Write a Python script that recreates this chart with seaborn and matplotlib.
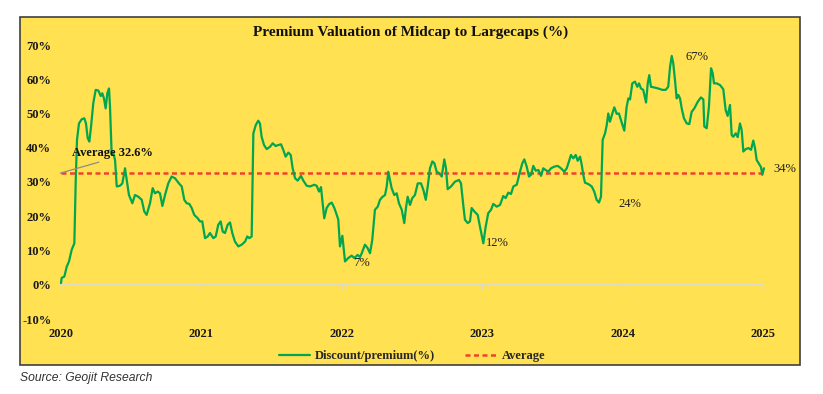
import numpy as np
import pandas as pd
import matplotlib
matplotlib.use("Agg")
import matplotlib.pyplot as plt
import seaborn as sns
from matplotlib.patches import Rectangle
from matplotlib.lines import Line2D

# ---------------- data ----------------
t_years = [
    2020.000, 2020.005, 2020.024, 2020.041, 2020.057, 2020.076, 2020.095, 2020.105, 2020.114, 2020.128,
    2020.147, 2020.166, 2020.178, 2020.190, 2020.202, 2020.214, 2020.230, 2020.247, 2020.266, 2020.283,
    2020.294, 2020.306, 2020.318, 2020.330, 2020.342, 2020.349, 2020.361, 2020.373, 2020.385, 2020.397,
    2020.420, 2020.437, 2020.456, 2020.468, 2020.484, 2020.508, 2020.527, 2020.551, 2020.575, 2020.593,
    2020.610, 2020.634, 2020.653, 2020.669, 2020.689, 2020.705, 2020.722, 2020.741, 2020.764, 2020.788,
    2020.812, 2020.840, 2020.860, 2020.878, 2020.895, 2020.914, 2020.931, 2020.949, 2020.974, 2020.990,
    2021.006, 2021.026, 2021.045, 2021.061, 2021.085, 2021.102, 2021.120, 2021.137, 2021.152, 2021.168,
    2021.187, 2021.204, 2021.220, 2021.239, 2021.263, 2021.287, 2021.311, 2021.327, 2021.341, 2021.358,
    2021.370, 2021.387, 2021.405, 2021.417, 2021.429, 2021.446, 2021.465, 2021.489, 2021.508, 2021.529,
    2021.548, 2021.567, 2021.583, 2021.600, 2021.619, 2021.636, 2021.650, 2021.667, 2021.686, 2021.709,
    2021.726, 2021.750, 2021.774, 2021.804, 2021.821, 2021.838, 2021.852, 2021.861, 2021.875, 2021.892,
    2021.909, 2021.928, 2021.947, 2021.964, 2021.975, 2021.987, 2022.004, 2022.023, 2022.046, 2022.070,
    2022.089, 2022.113, 2022.130, 2022.142, 2022.165, 2022.184, 2022.201, 2022.217, 2022.236, 2022.256,
    2022.272, 2022.288, 2022.308, 2022.320, 2022.331, 2022.343, 2022.355, 2022.374, 2022.391, 2022.407,
    2022.427, 2022.445, 2022.457, 2022.469, 2022.486, 2022.502, 2022.521, 2022.541, 2022.564, 2022.581,
    2022.598, 2022.612, 2022.628, 2022.645, 2022.659, 2022.676, 2022.692, 2022.712, 2022.730, 2022.742,
    2022.754, 2022.778, 2022.806, 2022.835, 2022.849, 2022.865, 2022.877, 2022.897, 2022.913, 2022.925,
    2022.944, 2022.968, 2022.984, 2023.008, 2023.025, 2023.043, 2023.063, 2023.079, 2023.103, 2023.127,
    2023.150, 2023.167, 2023.186, 2023.205, 2023.222, 2023.246, 2023.269, 2023.286, 2023.300, 2023.317,
    2023.333, 2023.348, 2023.364, 2023.381, 2023.400, 2023.419, 2023.435, 2023.452, 2023.471, 2023.490,
    2023.514, 2023.538, 2023.561, 2023.585, 2023.602, 2023.618, 2023.632, 2023.649, 2023.666, 2023.680,
    2023.697, 2023.709, 2023.720, 2023.732, 2023.756, 2023.780, 2023.798, 2023.815, 2023.832, 2023.846,
    2023.858, 2023.875, 2023.887, 2023.898, 2023.910, 2023.927, 2023.941, 2023.958, 2023.974, 2023.994,
    2024.012, 2024.029, 2024.041, 2024.053, 2024.069, 2024.088, 2024.105, 2024.117, 2024.131, 2024.147,
    2024.167, 2024.179, 2024.190, 2024.202, 2024.226, 2024.254, 2024.283, 2024.307, 2024.325, 2024.338,
    2024.350, 2024.361, 2024.373, 2024.385, 2024.397, 2024.409, 2024.421, 2024.437, 2024.457, 2024.475,
    2024.492, 2024.511, 2024.535, 2024.558, 2024.575, 2024.582, 2024.599, 2024.615, 2024.630, 2024.642,
    2024.651, 2024.670, 2024.694, 2024.717, 2024.734, 2024.748, 2024.765, 2024.777, 2024.788, 2024.806,
    2024.820, 2024.836, 2024.848, 2024.860, 2024.877, 2024.896, 2024.915, 2024.931, 2024.943, 2024.955,
    2024.972, 2024.986, 2024.995, 2025.007,
]
premium = [
    0.5, 2.0, 2.4, 5.3, 6.8, 10.2, 12.1, 30.6, 42.3, 47.1,
    48.3, 48.6, 47.1, 42.8, 41.8, 46.2, 53.0, 56.9, 56.7, 55.1,
    55.9, 54.4, 51.5, 55.9, 57.3, 52.0, 37.9, 38.4, 36.4, 28.7,
    28.9, 29.6, 34.0, 30.6, 26.2, 23.8, 26.2, 25.7, 24.8, 21.4,
    20.4, 23.8, 28.2, 26.7, 27.2, 26.7, 23.0, 26.2, 29.6, 31.6,
    31.1, 29.6, 28.7, 24.8, 23.8, 23.6, 22.4, 20.4, 19.4, 18.5,
    18.5, 13.6, 14.1, 15.1, 13.6, 14.1, 17.5, 18.5, 15.5, 15.1,
    17.5, 18.2, 15.1, 12.6, 11.2, 11.7, 12.6, 14.1, 13.6, 14.1,
    44.2, 46.6, 47.9, 47.1, 43.2, 40.8, 39.6, 40.3, 41.3, 40.5,
    40.8, 41.0, 39.4, 37.4, 38.6, 37.9, 34.0, 31.1, 30.4, 31.8,
    30.4, 28.9, 28.7, 29.2, 28.9, 27.2, 28.5, 24.8, 19.4, 22.4,
    23.5, 24.0, 22.4, 20.4, 19.0, 11.2, 14.3, 6.8, 7.8, 8.5,
    7.8, 8.7, 8.1, 9.2, 11.7, 10.7, 9.2, 13.1, 21.9, 22.8,
    24.8, 25.6, 26.2, 28.7, 33.0, 30.6, 28.2, 26.2, 26.7, 23.8,
    21.9, 18.0, 22.4, 25.7, 23.3, 25.3, 26.2, 29.6, 29.6, 27.7,
    24.8, 28.7, 34.0, 36.0, 35.5, 33.0, 32.6, 31.6, 36.6, 34.0,
    27.9, 28.7, 30.1, 30.6, 29.6, 23.3, 19.0, 18.0, 18.5, 22.4,
    21.4, 20.4, 17.0, 12.1, 17.0, 20.9, 21.9, 23.6, 22.8, 23.3,
    25.9, 25.3, 26.9, 26.5, 28.7, 29.2, 33.0, 35.5, 36.6, 34.5,
    31.6, 32.1, 34.7, 33.3, 33.5, 31.8, 34.0, 33.5, 33.0, 34.0,
    34.5, 34.7, 34.0, 33.0, 34.0, 36.0, 37.9, 36.9, 37.9, 36.2,
    37.4, 35.0, 32.1, 29.8, 29.4, 28.7, 27.2, 24.8, 24.0, 25.7,
    42.3, 44.2, 46.6, 50.0, 47.6, 50.0, 51.8, 49.9, 50.0, 47.3,
    45.0, 52.0, 54.4, 54.1, 58.8, 59.3, 57.8, 58.8, 57.3, 56.9,
    53.2, 58.8, 61.2, 57.8, 57.6, 57.3, 56.9, 56.9, 57.8, 63.6,
    66.8, 64.6, 59.8, 54.4, 55.4, 54.4, 51.5, 48.6, 47.1, 46.9,
    50.5, 51.5, 53.4, 54.7, 54.1, 46.2, 45.7, 52.0, 63.2, 61.7,
    58.8, 58.8, 58.3, 57.1, 51.0, 49.3, 52.5, 43.7, 43.2, 44.2,
    43.1, 47.1, 45.2, 38.9, 39.6, 39.9, 39.4, 42.1, 39.9, 36.4,
    35.3, 34.3, 32.1, 34.0,
]
average = 32.6
year_ticks = [2020, 2021, 2022, 2023, 2024, 2025]
y_ticks = [-10, 0, 10, 20, 30, 40, 50, 60, 70]
callout_labels = ["7%", "12%", "24%", "67%", "34%"]
callout_x = [2022.14, 2023.105, 2024.053, 2024.53, 2025.157]
callout_y = [6.4, 12.2, 23.6, 66.5, 33.8]

# ---------------- style ----------------
sns.set_theme(style="white")
SERIF = ["Liberation Serif", "DejaVu Serif"]
plt.rcParams["font.family"] = SERIF

YELLOW = "#FFE152"
GREEN = "#00A650"
RED = "#F0412A"
FS = 9.0

W, H = 823, 394
fig = plt.figure(figsize=(W / 100, H / 100), dpi=100)
fig.patch.set_facecolor("white")

# outer yellow box
box = Rectangle((20 / W, 1 - 365 / H), 780 / W, 348 / H, transform=fig.transFigure,
                facecolor=YELLOW, edgecolor="#3f3f3f", linewidth=1.2, zorder=-5)
fig.patches.append(box)

ax = fig.add_axes([61 / W, 1 - 319 / H, 702 / W, 274 / H])
ax.set_zorder(2)
ax.set_facecolor("none")

df = pd.DataFrame({"year": t_years, "premium": premium})
sns.lineplot(data=df, x="year", y="premium", ax=ax, color=GREEN, linewidth=1.6,
             estimator=None, sort=False, zorder=3, clip_on=False)
ax.hlines(average, t_years[0], t_years[-1], colors=RED, linestyles=(0, (2.0, 1.4)),
          linewidth=1.8, zorder=2)

ax.set_xlim(2020, 2025)
ax.set_ylim(-10, 70)

for s in ["top", "right", "left"]:
    ax.spines[s].set_visible(False)
ax.spines["bottom"].set_position(("data", 0))
ax.spines["bottom"].set_color("#d9d9d9")
ax.spines["bottom"].set_linewidth(1.2)

ax.set_xticks(year_ticks)
ax.set_xticklabels([str(y) for y in year_ticks], fontweight="bold", fontsize=FS, color="#1a1a1a")
ax.tick_params(axis="x", length=3, width=1, color="#d9d9d9", pad=28, direction="out", bottom=True)
ax.set_yticks(y_ticks)
ax.set_yticklabels([f"{v}%" for v in y_ticks], fontweight="bold", fontsize=FS, color="#1a1a1a")
ax.tick_params(axis="y", length=0, pad=7)
ax.set_xlabel("")
ax.set_ylabel("")
ax.grid(False)

# callout labels
for lab, x, y in zip(callout_labels, callout_x, callout_y):
    ax.text(x, y, lab, ha="center", va="center", fontsize=FS, color="#222222")

# average annotation
ax.annotate(f"Average {average}%", xy=(2019.995, average), xytext=(2020.075, 38.5),
            fontsize=FS, fontweight="bold", color="#111111", ha="left", va="center",
            arrowprops=dict(arrowstyle="-", color="#8c8c8c", lw=0.9,
                            shrinkA=0, shrinkB=0, relpos=(0.48, 0.0)),
            annotation_clip=False, zorder=5)

# title
fig.text(411 / W, 1 - 32 / H, "Premium Valuation of Midcap to Largecaps (%)", ha="center", va="center",
         fontsize=11, fontweight="bold", color="#111111")

# legend
handles = [Line2D([], [], color=GREEN, lw=1.6),
           Line2D([], [], color=RED, lw=1.8, linestyle=(0, (2.0, 1.4)))]
leg = fig.legend(handles, ["Discount/premium(%)", "Average"], loc="center",
                 bbox_to_anchor=(412 / W, 1 - 356 / H), ncol=2, frameon=False,
                 prop=dict(family=SERIF, weight="bold", size=FS),
                 handlelength=2.5, handletextpad=0.4, columnspacing=2.4)

# source
fig.text(20 / W, 1 - 378 / H, "Source: Geojit Research", ha="left", va="center",
         fontsize=8.7, style="italic", color="#333333", family="Liberation Sans")

fig.savefig("out.png", dpi=100, facecolor="white")
